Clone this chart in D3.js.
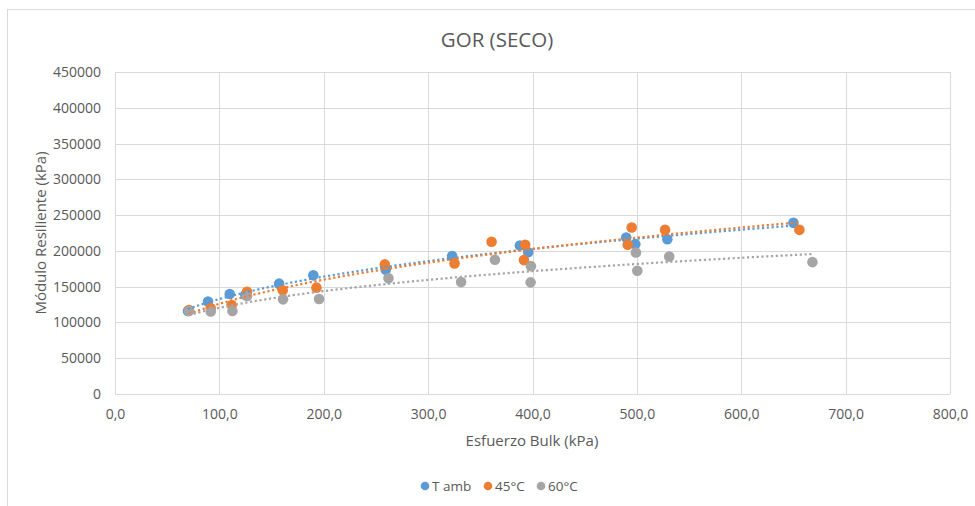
<!DOCTYPE html>
<html>
<head>
<meta charset="utf-8">
<script src="https://cdn.jsdelivr.net/npm/d3@7"></script>
<style>
  body { margin: 0; background: #fff; }
  text { font-family: "Open Sans", sans-serif; fill: #595959; }
</style>
</head>
<body>
<svg id="chart" width="975" height="506"></svg>
<script>
// Datos: esfuerzo bulk (kPa) y módulo resiliente (kPa)
var tambX = [69.9, 89.1, 109.9, 124.9, 157.2, 190.0, 259.4, 323.0, 387.9, 395.9, 489.8, 498.5, 529.2, 650.0];
var tambY = [116000, 129100, 139700, 138500, 154200, 165800, 173700, 192700, 207600, 198200, 218700, 209400, 216300, 239200];

var c45X = [70.9, 91.7, 111.8, 126.5, 160.7, 193.0, 258.5, 325.3, 360.8, 393.0, 391.8, 495.0, 491.2, 527.0, 655.7];
var c45Y = [117400, 119800, 124400, 143000, 144900, 148600, 181100, 182500, 212700, 208500, 187100, 232600, 208500, 229400, 229400];

var c60X = [70.9, 91.7, 112.5, 126.5, 161.0, 195.5, 262.0, 331.6, 364.0, 398.5, 398.2, 499.1, 500.4, 531.0, 668.2];
var c60Y = [116000, 115200, 116000, 136900, 132300, 132800, 161600, 156400, 187600, 178700, 156000, 197800, 172300, 192200, 184300];

var seriesNames = ["T amb", "45°C", "60°C"];
var seriesColors = ["#5B9BD5", "#ED7D31", "#A5A5A5"];
var xTicks = [0, 100, 200, 300, 400, 500, 600, 700, 800];
var yTicks = [0, 50000, 100000, 150000, 200000, 250000, 300000, 350000, 400000, 450000];

(function () {
    var svg = d3.select("#chart");
    var margin = {top: 72, right: 25, bottom: 112, left: 115};
    var width = 975 - margin.left - margin.right,
        height = 506 - margin.top - margin.bottom;

    // Borde del área del gráfico
    svg.append("rect")
        .attr("x", 7.5).attr("y", 9.5)
        .attr("width", 980).attr("height", 510)
        .attr("fill", "#fff").attr("stroke", "#d9d9d9");

    var g = svg.append("g")
        .attr("transform", "translate(" + margin.left + "," + margin.top + ")");

    var x = d3.scaleLinear().domain([0, 800]).range([0, width]);
    var y = d3.scaleLinear().domain([0, 450000]).range([height, 0]);

    // Cuadrícula
    g.append("g").selectAll("line").data(yTicks).join("line")
        .attr("x1", 0).attr("x2", width)
        .attr("y1", d => Math.round(y(d)) + 0.5).attr("y2", d => Math.round(y(d)) + 0.5)
        .attr("stroke", "#d9d9d9");
    g.append("g").selectAll("line").data(xTicks).join("line")
        .attr("y1", 0).attr("y2", height)
        .attr("x1", d => Math.round(x(d)) + 0.5).attr("x2", d => Math.round(x(d)) + 0.5)
        .attr("stroke", "#d9d9d9");

    // Ejes
    var axisX = g.append("g")
        .attr("transform", "translate(0," + height + ")")
        .call(d3.axisBottom(x).tickValues(xTicks).tickSize(0).tickPadding(15)
            .tickFormat(d => d3.format(".1f")(d).replace(".", ",")));
    var axisY = g.append("g")
        .call(d3.axisLeft(y).tickValues(yTicks).tickSize(0).tickPadding(14)
            .tickFormat(d3.format("d")));
    [axisX, axisY].forEach(a => {
        a.select(".domain").remove();
        a.selectAll("text").style("font-family", "'Open Sans', sans-serif")
            .style("font-size", "14px").attr("fill", "#595959");
    });

    // Línea de tendencia potencial (ajuste en escala log-log)
    function tendencia(xs, ys) {
        var lx = xs.map(Math.log), ly = ys.map(Math.log);
        var mx = d3.mean(lx), my = d3.mean(ly);
        var b = d3.sum(lx, (v, i) => (v - mx) * (ly[i] - my)) / d3.sum(lx, v => (v - mx) * (v - mx));
        var a = Math.exp(my - b * mx);
        var ext = d3.extent(xs);
        return d3.range(0, 61).map(i => {
            var xv = ext[0] + (ext[1] - ext[0]) * i / 60;
            return [xv, a * Math.pow(xv, b)];
        });
    }

    var datos = [[tambX, tambY], [c45X, c45Y], [c60X, c60Y]];
    var linea = d3.line().x(d => x(d[0])).y(d => y(d[1]));

    // Puntos (orden de dibujo: T amb, 45°C, 60°C)
    datos.forEach((s, i) => {
        g.append("g").selectAll("circle")
            .data(s[0].map((v, j) => [v, s[1][j]]))
            .join("circle")
            .attr("cx", d => x(d[0])).attr("cy", d => y(d[1]))
            .attr("r", 5.3)
            .attr("fill", seriesColors[i]);
    });
    datos.forEach((s, i) => {
        g.append("path")
            .datum(tendencia(s[0], s[1]))
            .attr("d", linea)
            .attr("fill", "none")
            .attr("stroke", seriesColors[i])
            .attr("stroke-width", 2.2)
            .attr("stroke-dasharray", "2.2,2.6");
    });

    // Títulos
    svg.append("text").attr("x", 497).attr("y", 47)
        .attr("text-anchor", "middle").style("font-size", "20.5px")
        .text("GOR (SECO)");
    svg.append("text").attr("x", 532).attr("y", 446)
        .attr("text-anchor", "middle").style("font-size", "15px")
        .text("Esfuerzo Bulk (kPa)");
    svg.append("text")
        .attr("transform", "translate(46," + (margin.top + height / 2) + ") rotate(-90)")
        .attr("text-anchor", "middle").style("font-size", "15px")
        .text("Módulo Resiliente (kPa)");

    // Leyenda
    var legX = [425, 488, 541];
    var leyenda = svg.append("g").selectAll("g").data(seriesNames).join("g")
        .attr("transform", (d, i) => "translate(" + legX[i] + ",486)");
    leyenda.append("circle").attr("r", 4.3).attr("fill", (d, i) => seriesColors[i]);
    leyenda.append("text").attr("x", 7).attr("dy", "0.35em")
        .style("font-size", "13.5px").text(d => d);
})();
</script>
</body>
</html>
